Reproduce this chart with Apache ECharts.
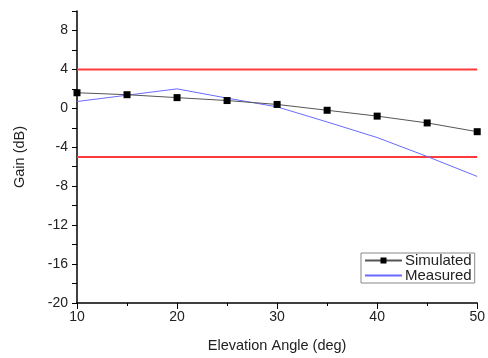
<!DOCTYPE html>
<html><head><meta charset="utf-8">
<script src="https://cdn.jsdelivr.net/npm/echarts@6/dist/echarts.min.js"></script>
<style>html,body{margin:0;padding:0;background:#fff}#c{width:488px;height:358px}</style>
</head><body><div id="c"></div>
<script>
const angles = [10, 15, 20, 25, 30, 35, 40, 45, 50];
const simulated = [1.6, 1.4, 1.1, 0.8, 0.4, -0.2, -0.8, -1.5, -2.4];
const measured = [0.7, 1.35, 2.0, 1.05, 0.15, -1.4, -3.0, -4.95, -7.0];
const limitLevels = [4, -5];
const xRange = [10, 50];

const font = 'Liberation Sans, Arial, sans-serif';
const txt = '#222';
const chart = echarts.init(document.getElementById('c'));
const limitSeries = limitLevels.map(v => ({
  type: 'line', name: 'limit' + v, data: xRange.map(x => [x, v]),
  showSymbol: false, symbol: 'none', silent: true,
  lineStyle: { color: '#ff3a3a', width: 2 }, z: 1
}));
chart.setOption({
  animation: false,
  textStyle: { fontFamily: font },
  grid: { left: 77, right: 7, top: 11, bottom: 51 },
  xAxis: {
    type: 'value', min: 10, max: 50, interval: 10,
    name: 'Elevation Angle (deg)', nameLocation: 'middle', nameGap: 35,
    nameTextStyle: { fontSize: 14.5, color: txt, fontFamily: font },
    axisLine: { onZero: false, lineStyle: { color: '#000', width: 1.5 } },
    axisTick: { inside: false, length: 6, lineStyle: { color: '#000' } },
    minorTick: { show: true, splitNumber: 2, length: 3, lineStyle: { color: '#000' } },
    axisLabel: { fontSize: 14, color: txt, margin: 7, fontFamily: font },
    splitLine: { show: false }
  },
  yAxis: {
    type: 'value', min: -20, max: 10, interval: 2,
    name: 'Gain (dB)', nameLocation: 'middle', nameGap: 50,
    nameTextStyle: { fontSize: 14.5, color: txt, fontFamily: font },
    axisLine: { show: true, onZero: false, lineStyle: { color: '#000', width: 1.5 } },
    axisTick: { show: true, length: 5, lineStyle: { color: '#000' } },
    axisLabel: { fontSize: 14, color: txt, margin: 9, fontFamily: font,
      formatter: v => (v % 4 === 0 && v !== 10) ? String(v) : '' },
    splitLine: { show: false }
  },
  legend: {
    data: [{ name: 'Simulated' }, { name: 'Measured', itemStyle: { opacity: 0 } }],
    orient: 'vertical',
    left: 361, top: 253,
    padding: [0, 3, 0, 3], itemGap: 0, itemWidth: 37, itemHeight: 7.5,
    borderColor: '#888', borderWidth: 1,
    textStyle: { fontSize: 15, color: txt, fontFamily: font, padding: [0, 0, 0, -2], lineHeight: 15 }
  },
  series: [
    ...limitSeries,
    {
      type: 'line', name: 'Simulated', data: angles.map((a, i) => [a, simulated[i]]),
      symbol: 'rect', symbolSize: 7, itemStyle: { color: '#000' },
      lineStyle: { color: '#555', width: 1 }, z: 3
    },
    {
      type: 'line', name: 'Measured', data: angles.map((a, i) => [a, measured[i]]),
      symbol: 'none', itemStyle: { color: '#6a6aff' },
      lineStyle: { color: '#6a6aff', width: 1 }, z: 2
    }
  ]
});
</script></body></html>
